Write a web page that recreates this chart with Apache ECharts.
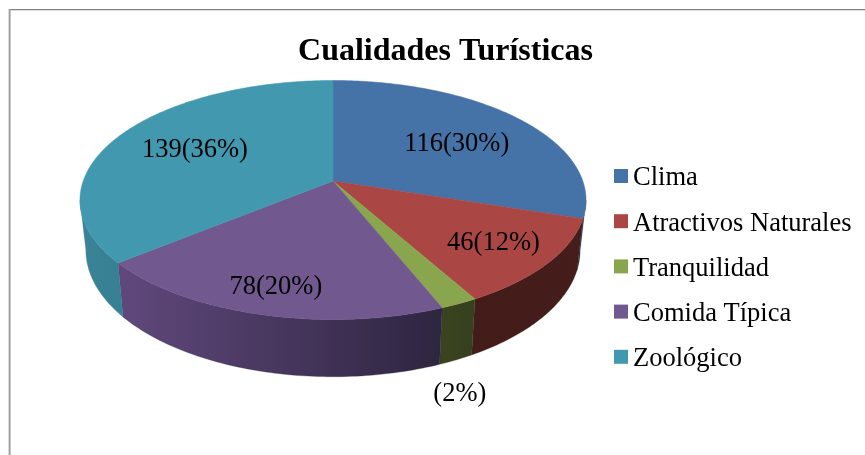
<!DOCTYPE html>
<html>
<head>
<meta charset="utf-8">
<style>html,body{margin:0;padding:0;background:#fff}#chart{width:865px;height:455px}</style>
<script src="https://cdn.jsdelivr.net/npm/echarts@6/dist/echarts.min.js"></script>
</head>
<body>
<div id="chart"></div>
<script>
// data
const categories = ['Clima', 'Atractivos Naturales', 'Tranquilidad', 'Comida Típica', 'Zoológico']
const values = [116, 46, 8, 78, 139]
const labels = ['116(30%)', '46(12%)', '(2%)', '78(20%)', '139(36%)']

const FONT = '"Liberation Serif", "Times New Roman", serif'
const topColors = ['#4572a7', '#aa4643', '#89a54e', '#71588f', '#4198af']
const wallColors = [
  ['#1f3552', '#1f3552'],
  ['#451d1a', '#431c1a'],
  ['#363f1e', '#3a4420'],
  ['#2e2540', '#60487c'],
  ['#377f93', '#3a8498'],
]
// label nudge from the point at 60% of the radius
const labelNudge = [[9, 2], [37, 15], [56, 144], [-16, 31], [-8, -2]]

// perspective of the tilted pie, fitted on the picture
const CX = 333
const TOP = { y: 181, a: 249.8, b: 116.5 }
const BOTTOM = { y: 230, a: 244, b: 123.4 }
const P = 0.159
// the rim is widest here, the side wall stops at it
const WALL_FROM = Math.acos(-P)
const WALL_TO = Math.PI * 2 - WALL_FROM

const total = values.reduce((s, v) => s + v, 0)
const starts = []
values.reduce((s, v, i) => { starts[i] = s; return s + v }, 0)

// theta: clockwise from the far side of the pie
const project = (rim, theta, f) => {
  const w = 1 + P * f * Math.cos(theta)
  return [CX + rim.a * f * Math.sin(theta) / w, rim.y - rim.b * f * Math.cos(theta) / w]
}
const angleOf = (v) => (v / total) * Math.PI * 2

const arc = (rim, from, to) => {
  const pts = []
  const n = Math.max(2, Math.ceil((to - from) * 60))
  for (let i = 0; i <= n; i++) pts.push(project(rim, from + ((to - from) * i) / n, 1))
  return pts
}

const renderTop = (index) => (params, api) => {
  const from = angleOf(starts[index])
  const to = from + angleOf(api.value(0))
  const mid = (from + to) / 2
  const anchor = project(TOP, mid, 0.6)
  return {
    type: 'group',
    children: [
      {
        type: 'polygon',
        shape: { points: [[CX, TOP.y], ...arc(TOP, from, to)] },
        style: { fill: topColors[index], stroke: topColors[index], lineWidth: 0.5 },
      },
      {
        type: 'text',
        z2: 10,
        style: {
          x: anchor[0] + labelNudge[index][0],
          y: anchor[1] + labelNudge[index][1],
          text: labels[index],
          fill: '#000',
          font: '26.5px ' + FONT,
          align: 'center',
          verticalAlign: 'middle',
        },
      },
    ],
  }
}

// only the near half of the rim is visible
const renderWall = (params, api) => {
  const i = params.dataIndex
  const from = Math.max(angleOf(starts[i]), WALL_FROM)
  const to = Math.min(angleOf(starts[i]) + angleOf(api.value(0)), WALL_TO)
  if (to <= from) return null
  const a = arc(TOP, from, to)
  const b = arc(BOTTOM, from, to).reverse()
  const [c0, c1] = wallColors[i]
  return {
    type: 'polygon',
    shape: { points: [...a, ...b] },
    style: {
      fill: new echarts.graphic.LinearGradient(0, 0, 1, 0, [
        { offset: 0, color: c1 },
        { offset: 1, color: c0 },
      ]),
      stroke: c0,
      lineWidth: 0.3,
    },
  }
}

const chart = echarts.init(document.getElementById('chart'), null, { renderer: 'canvas' })

chart.setOption({
  animation: false,
  backgroundColor: '#fff',
  title: {
    text: 'Cualidades Turísticas',
    left: 440.5,
    top: 31,
    textAlign: 'center',
    textStyle: { fontFamily: FONT, fontSize: 32, fontWeight: 'bold', color: '#000' },
  },
  legend: {
    data: categories,
    orient: 'vertical',
    left: 609,
    top: 160,
    icon: 'rect',
    itemWidth: 14,
    itemHeight: 14,
    itemGap: 18.2,
    formatter: '{t|{name}}',
    textStyle: {
      rich: { t: { fontFamily: FONT, fontSize: 26.5, color: '#000', lineHeight: 32, verticalAlign: 'bottom' } },
    },
  },
  graphic: [
    { type: 'rect', shape: { x: 9, y: 9, width: 856, height: 1.2 }, style: { fill: '#808080' }, silent: true },
    { type: 'rect', shape: { x: 8.6, y: 9, width: 2, height: 446 }, style: { fill: '#a0a0a0' }, silent: true },
  ],
  series: [
    {
      type: 'custom',
      name: 'laterales',
      coordinateSystem: 'none',
      z: 2,
      silent: true,
      renderItem: renderWall,
      data: values.map((v) => [v]),
    },
    ...categories.map((name, i) => ({
      type: 'custom',
      name,
      coordinateSystem: 'none',
      z: 3,
      itemStyle: { color: topColors[i] },
      renderItem: renderTop(i),
      data: [[values[i]]],
    })),
  ],
})
</script>
</body>
</html>
